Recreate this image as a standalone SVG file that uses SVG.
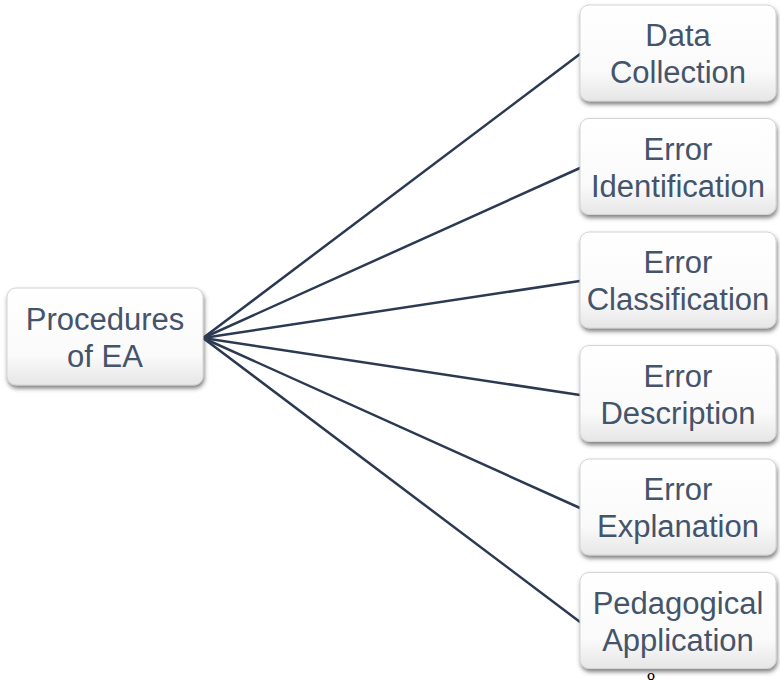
<svg xmlns="http://www.w3.org/2000/svg" width="780" height="680" viewBox="0 0 780 680">
  <defs>
    <linearGradient id="boxGrad" x1="0" y1="0" x2="0" y2="1">
      <stop offset="0" stop-color="#FFFFFF"/>
      <stop offset="0.7" stop-color="#FAFAFA"/>
      <stop offset="1" stop-color="#E6E6E6"/>
    </linearGradient>
    <filter id="shadow" x="-10%" y="-10%" width="125%" height="130%">
      <feDropShadow dx="1" dy="3" stdDeviation="2" flood-color="#404040" flood-opacity="0.65"/>
    </filter>
  </defs>
  <style>
    .box { fill: url(#boxGrad); stroke: #D4D4D4; stroke-width: 1; filter: url(#shadow); }
    .lbl { font-family: "Liberation Sans", Arial, sans-serif; font-size: 31px; fill: #44546A; text-anchor: middle; }
    .conn { stroke: #2B3A52; stroke-width: 2.5; fill: none; stroke-linecap: round; }
  </style>
  <rect width="780" height="680" fill="#FFFFFF"/>

  <g id="connectors">
    <line class="conn" x1="203" y1="338" x2="580" y2="54"/>
    <line class="conn" x1="203" y1="338" x2="580" y2="168"/>
    <line class="conn" x1="203" y1="338" x2="580" y2="281"/>
    <line class="conn" x1="203" y1="338" x2="580" y2="395"/>
    <line class="conn" x1="203" y1="338" x2="580" y2="508"/>
    <line class="conn" x1="203" y1="338" x2="580" y2="622"/>
  </g>

  <g id="procedures">
    <rect class="box" x="7" y="288" width="196" height="97" rx="9"/>
    <text class="lbl" x="105" y="330">Procedures</text>
    <text class="lbl" x="105" y="367">of EA</text>
  </g>

  <g id="data-collection">
    <rect class="box" x="580" y="5" width="196" height="96" rx="9"/>
    <text class="lbl" x="678" y="46">Data</text>
    <text class="lbl" x="678" y="83">Collection</text>
  </g>

  <g id="error-identification">
    <rect class="box" x="580" y="118.5" width="196" height="96" rx="9"/>
    <text class="lbl" x="678" y="159.5">Error</text>
    <text class="lbl" x="678" y="196.5">Identification</text>
  </g>

  <g id="error-classification">
    <rect class="box" x="580" y="232" width="196" height="96" rx="9"/>
    <text class="lbl" x="678" y="273">Error</text>
    <text class="lbl" x="678" y="310">Classification</text>
  </g>

  <g id="error-description">
    <rect class="box" x="580" y="345.5" width="196" height="96" rx="9"/>
    <text class="lbl" x="678" y="386.5">Error</text>
    <text class="lbl" x="678" y="423.5">Description</text>
  </g>

  <g id="error-explanation">
    <rect class="box" x="580" y="459" width="196" height="96" rx="9"/>
    <text class="lbl" x="678" y="500">Error</text>
    <text class="lbl" x="678" y="537">Explanation</text>
  </g>

  <g id="pedagogical-application">
    <rect class="box" x="580" y="572.5" width="196" height="96" rx="9"/>
    <text class="lbl" x="678" y="613.5">Pedagogical</text>
    <text class="lbl" x="678" y="650.5">Application</text>
  </g>

  <text x="651" y="686" font-family="Liberation Serif, Times New Roman, serif" font-size="18" fill="#000000" text-anchor="middle">8</text>
</svg>
